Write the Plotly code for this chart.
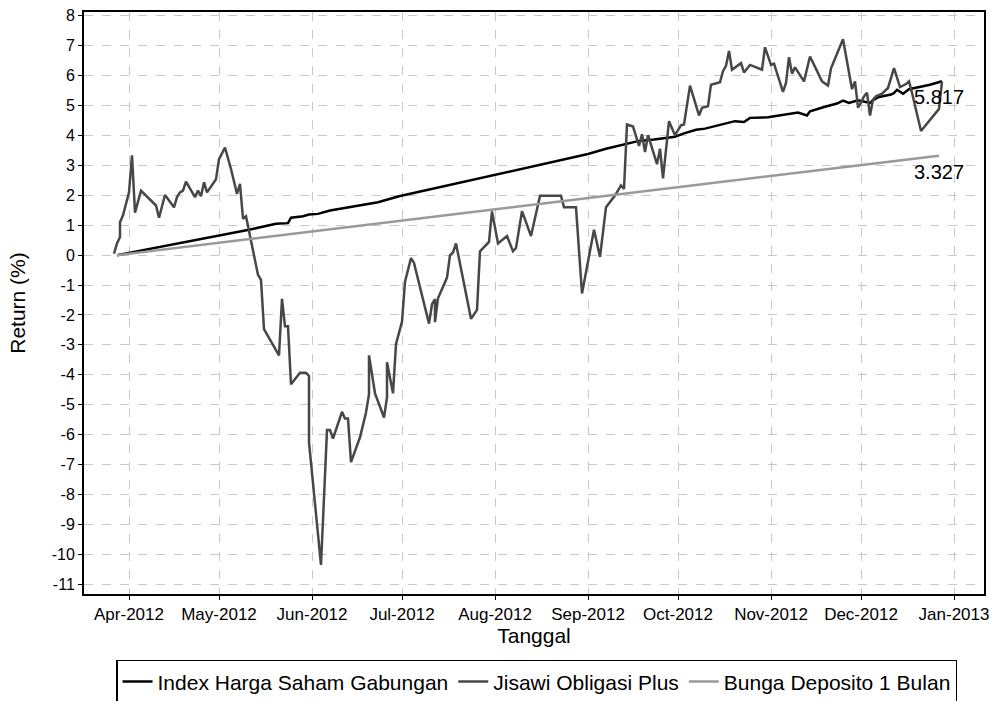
import plotly.graph_objects as go

# ---- data ----
ihsg_dates = ["2012-03-28", "2012-05-11", "2012-05-20", "2012-05-24", "2012-05-25", "2012-05-29",
              "2012-05-31", "2012-06-03", "2012-06-07", "2012-06-23", "2012-06-30", "2012-07-14",
              "2012-08-01", "2012-09-01", "2012-09-07", "2012-09-14", "2012-09-18", "2012-09-23",
              "2012-09-28", "2012-09-30", "2012-10-03", "2012-10-07", "2012-10-10", "2012-10-14",
              "2012-10-17", "2012-10-20", "2012-10-23", "2012-10-25", "2012-10-31", "2012-11-06",
              "2012-11-10", "2012-11-13", "2012-11-14", "2012-11-19", "2012-11-23", "2012-11-25",
              "2012-11-27", "2012-11-30", "2012-12-04", "2012-12-05", "2012-12-07", "2012-12-11",
              "2012-12-12", "2012-12-13", "2012-12-15", "2012-12-17", "2012-12-21", "2012-12-24",
              "2012-12-28"]
ihsg_vals = [0.0, 0.85, 1.05, 1.07, 1.25, 1.30,
             1.36, 1.38, 1.49, 1.77, 1.97, 2.28,
             2.67, 3.38, 3.56, 3.71, 3.82, 3.87,
             3.93, 3.96, 4.07, 4.19, 4.23, 4.34,
             4.40, 4.48, 4.45, 4.59, 4.61, 4.70,
             4.77, 4.67, 4.81, 4.96, 5.07, 5.17,
             5.09, 5.18, 5.09, 5.18, 5.29, 5.37,
             5.42, 5.53, 5.40, 5.55, 5.64, 5.70,
             5.817]

jisawi_dates = ["2012-03-27", "2012-03-28", "2012-03-29", "2012-03-29", "2012-03-30", "2012-03-31",
                "2012-04-01", "2012-04-02", "2012-04-03", "2012-04-05", "2012-04-09", "2012-04-10",
                "2012-04-11", "2012-04-13", "2012-04-16", "2012-04-17", "2012-04-18", "2012-04-19",
                "2012-04-20", "2012-04-23", "2012-04-24", "2012-04-25", "2012-04-26", "2012-04-27",
                "2012-04-30", "2012-05-01", "2012-05-03", "2012-05-05", "2012-05-07", "2012-05-08",
                "2012-05-09", "2012-05-10", "2012-05-14", "2012-05-15", "2012-05-16", "2012-05-21",
                "2012-05-22", "2012-05-23", "2012-05-24", "2012-05-25", "2012-05-28", "2012-05-30",
                "2012-05-31", "2012-05-31", "2012-06-04", "2012-06-06", "2012-06-07", "2012-06-08",
                "2012-06-11", "2012-06-12", "2012-06-13", "2012-06-14", "2012-06-17", "2012-06-19",
                "2012-06-20", "2012-06-20", "2012-06-22", "2012-06-25", "2012-06-26", "2012-06-26",
                "2012-06-28", "2012-06-29", "2012-06-30", "2012-07-01", "2012-07-02", "2012-07-04",
                "2012-07-05", "2012-07-10", "2012-07-11", "2012-07-12", "2012-07-12", "2012-07-13",
                "2012-07-16", "2012-07-17", "2012-07-18", "2012-07-19", "2012-07-24", "2012-07-26",
                "2012-07-27", "2012-07-30", "2012-07-31", "2012-08-02", "2012-08-05", "2012-08-07",
                "2012-08-08", "2012-08-10", "2012-08-13", "2012-08-16", "2012-08-23", "2012-08-24",
                "2012-08-28", "2012-08-30", "2012-09-03", "2012-09-05", "2012-09-07", "2012-09-09",
                "2012-09-10", "2012-09-12", "2012-09-13", "2012-09-14", "2012-09-16", "2012-09-18",
                "2012-09-19", "2012-09-20", "2012-09-21", "2012-09-24", "2012-09-25", "2012-09-26",
                "2012-09-28", "2012-09-30", "2012-10-02", "2012-10-03", "2012-10-05", "2012-10-08",
                "2012-10-09", "2012-10-11", "2012-10-12", "2012-10-15", "2012-10-16", "2012-10-17",
                "2012-10-18", "2012-10-19", "2012-10-22", "2012-10-23", "2012-10-25", "2012-10-29",
                "2012-10-30", "2012-11-01", "2012-11-02", "2012-11-05", "2012-11-06", "2012-11-07",
                "2012-11-08", "2012-11-09", "2012-11-12", "2012-11-14", "2012-11-18", "2012-11-20",
                "2012-11-21", "2012-11-25", "2012-11-28", "2012-11-29", "2012-11-30", "2012-12-01",
                "2012-12-02", "2012-12-03", "2012-12-04", "2012-12-05", "2012-12-06", "2012-12-08",
                "2012-12-10", "2012-12-12", "2012-12-14", "2012-12-16", "2012-12-17", "2012-12-18",
                "2012-12-21", "2012-12-27", "2012-12-28"]
jisawi_vals = [0.05, 0.39, 0.61, 1.10, 1.33, 1.77,
               2.10, 3.34, 1.42, 2.16, 1.77, 1.66,
               1.25, 2.01, 1.60, 1.94, 2.10, 2.16,
               2.46, 1.94, 2.16, 1.97, 2.44, 2.10,
               2.54, 3.21, 3.60, 2.88, 2.05, 2.38,
               1.22, 1.30, -0.66, -0.83, -2.47, -3.35,
               -1.46, -2.38, -2.38, -4.32, -3.93, -3.93,
               -4.04, -6.26, -10.36, -5.85, -5.85, -6.13,
               -5.24, -5.46, -5.46, -6.92, -6.09, -5.26,
               -4.65, -3.35, -4.62, -5.43, -4.76, -3.58,
               -4.62, -2.97, -2.60, -2.22, -0.89, -0.10,
               -0.26, -2.29, -1.64, -1.47, -2.24, -1.44,
               -0.75, 0.00, 0.09, 0.39, -2.13, -1.83,
               0.13, 0.44, 1.46, 0.39, 0.64, 0.13,
               0.24, 1.47, 0.64, 1.99, 1.99, 1.60,
               1.60, -1.28, 0.85, -0.06, 1.60, 1.88,
               1.99, 2.33, 2.21, 4.37, 4.30, 3.65,
               4.04, 3.45, 4.01, 3.04, 3.56, 2.57,
               4.48, 4.01, 4.34, 4.37, 5.67, 4.67,
               4.93, 4.98, 5.70, 5.78, 6.15, 6.33,
               6.83, 6.20, 6.42, 6.11, 6.36, 6.20,
               6.95, 6.36, 6.40, 5.46, 5.76, 6.62,
               6.07, 6.28, 5.81, 6.64, 5.81, 5.67,
               6.25, 7.22, 5.55, 5.81, 4.93, 5.10,
               5.31, 5.43, 4.67, 5.20, 5.31, 5.40,
               5.59, 6.25, 5.62, 5.72, 5.81, 5.43,
               4.15, 4.89, 5.80]

deposito_dates = ["2012-03-28", "2012-12-27"]
deposito_vals = [0.0, 3.327]

series_names = ["Index Harga Saham Gabungan", "Jisawi Obligasi Plus", "Bunga Deposito 1 Bulan"]
end_labels = ["5.817", "3.327"]
end_label_vals = [5.817, 3.327]

month_ticks = ["2012-04-01", "2012-05-01", "2012-06-01", "2012-07-01", "2012-08-01",
               "2012-09-01", "2012-10-01", "2012-11-01", "2012-12-01", "2013-01-01"]
month_labels = ["Apr-2012", "May-2012", "Jun-2012", "Jul-2012", "Aug-2012",
                "Sep-2012", "Oct-2012", "Nov-2012", "Dec-2012", "Jan-2013"]
y_ticks = list(range(-11, 9))

FONT = "Liberation Sans, Arial, sans-serif"

fig = go.Figure()
fig.add_trace(go.Scatter(x=ihsg_dates, y=ihsg_vals, mode="lines", name=series_names[0],
                         line=dict(color="#000000", width=2.5)))
fig.add_trace(go.Scatter(x=jisawi_dates, y=jisawi_vals, mode="lines", name=series_names[1],
                         line=dict(color="#4a4646", width=2.5)))
fig.add_trace(go.Scatter(x=deposito_dates, y=deposito_vals, mode="lines", name=series_names[2],
                         line=dict(color="#999999", width=2.5)))

for txt, v in zip(end_labels, end_label_vals):
    fig.add_annotation(x=deposito_dates[-1], y=v, text=txt, showarrow=False,
                       xanchor="center", yanchor="middle", yshift=-16,
                       font=dict(family=FONT, size=20, color="#000000"))

axis_common = dict(showline=True, mirror=True, linecolor="#000000", linewidth=2,
                   showgrid=True, gridcolor="#c8c8c8", griddash="dash", gridwidth=1,
                   ticks="outside", ticklen=4, tickcolor="#000000",
                   zeroline=False)

fig.update_xaxes(type="date", range=["2012-03-17", "2013-01-11"],
                 tickvals=month_ticks, ticktext=month_labels,
                 tickfont=dict(family=FONT, size=17, color="#000000"),
                 title=dict(text="Tanggal", font=dict(family=FONT, size=21, color="#000000"),
                            standoff=4),
                 **axis_common)
fig.update_yaxes(range=[-11.33, 8.13], tickvals=y_ticks, ticktext=[str(v) for v in y_ticks],
                 tickfont=dict(family=FONT, size=16, color="#000000"),
                 title=dict(text="Return (%)", font=dict(family=FONT, size=21, color="#000000"),
                            standoff=20),
                 **axis_common)

fig.update_layout(
    width=1001, height=720,
    margin=dict(l=84, r=17, t=8, b=126),
    paper_bgcolor="#ffffff", plot_bgcolor="#ffffff",
    font=dict(family=FONT, color="#000000"),
    legend=dict(orientation="h", x=0.0356, xanchor="left", y=-0.113, yanchor="top",
                bordercolor="#000000", borderwidth=1.5, bgcolor="#ffffff",
                font=dict(family=FONT, size=21, color="#000000"),
                itemwidth=30, tracegroupgap=0),
)

fig.write_html("out.html", config={"displayModeBar": False},
               post_script="document.body.style.margin='0';document.body.style.overflow='hidden';"
                           "document.documentElement.style.overflow='hidden';")
